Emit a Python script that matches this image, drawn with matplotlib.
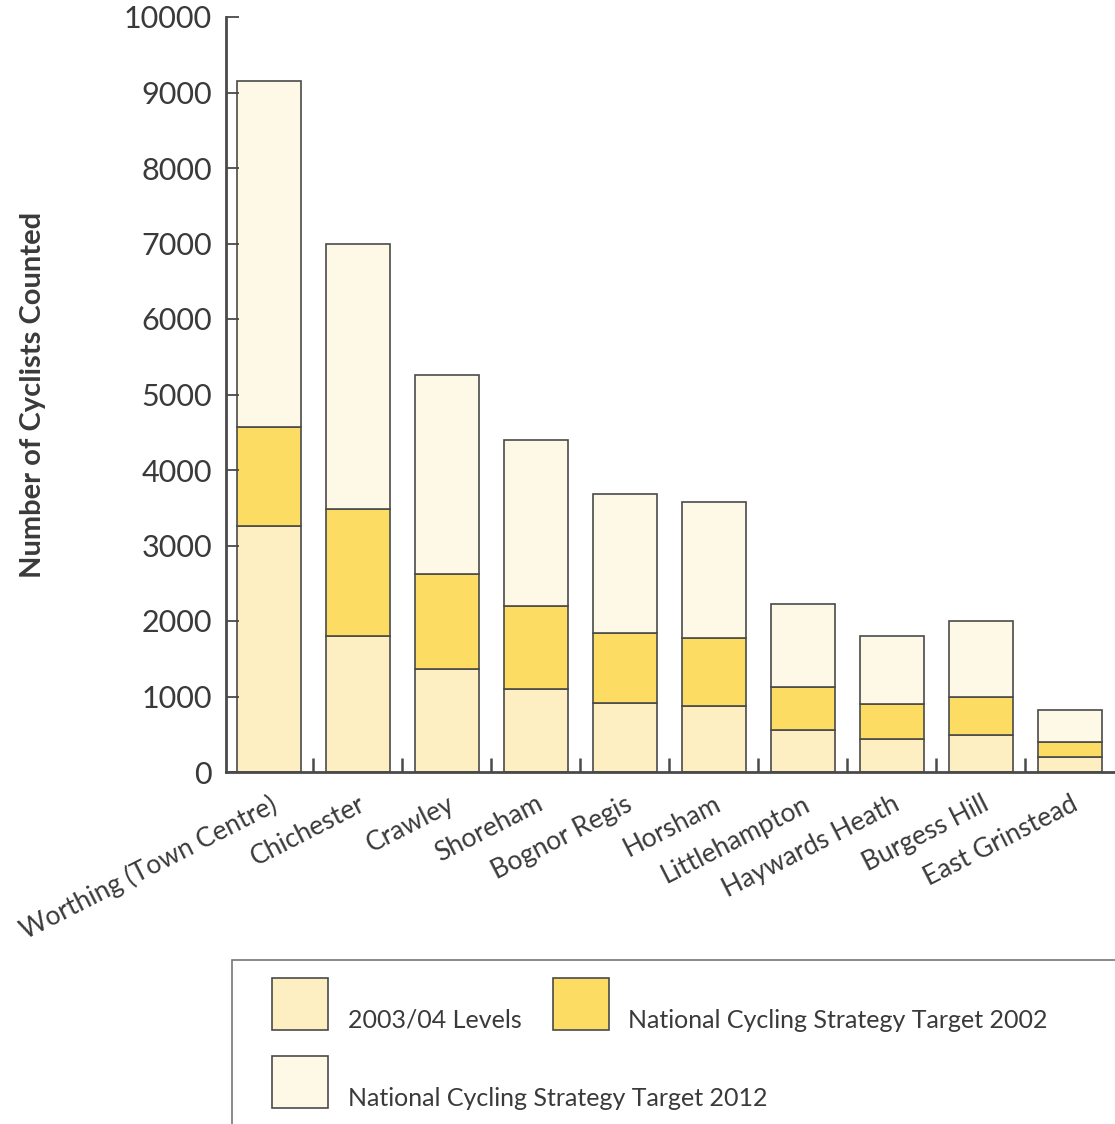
import matplotlib
matplotlib.use("Agg")
import matplotlib.pyplot as plt
from matplotlib.patches import Rectangle
import numpy as np

plt.rcParams['font.family'] = ['Lato', 'DejaVu Sans']

towns = ["Worthing (Town Centre)", "Chichester", "Crawley", "Shoreham", "Bognor Regis",
         "Horsham", "Littlehampton", "Haywards Heath", "Burgess Hill", "East Grinstead"]
levels_2003 = [3260, 1800, 1365, 1100, 915, 875, 555, 440, 490, 200]
target_2002 = [4570, 3485, 2625, 2200, 1840, 1775, 1125, 900, 995, 400]
target_2012 = [9150, 6995, 5260, 4400, 3685, 3580, 2225, 1800, 2000, 820]

series_labels = ["2003/04 Levels", "National Cycling Strategy Target 2002",
                 "National Cycling Strategy Target 2012"]
colors = ["#FDEFC2", "#FDDC64", "#FEF9E7"]
edge = "#4a4a4a"
txt = "#3a3a3a"

W, H = 1115, 1124
fig = plt.figure(figsize=(W / 100, H / 100), dpi=100)
ax = fig.add_axes([226 / W, 1 - 772 / H, (W - 226) / W + 0.01, (772 - 17) / H])

x = np.arange(len(towns))
b1 = np.array(levels_2003)
b2 = np.array(target_2002) - b1
b3 = np.array(target_2012) - np.array(target_2002)
bw = 0.72
ax.bar(x, b1, bw, color=colors[0], edgecolor=edge, linewidth=1.2)
ax.bar(x, b2, bw, bottom=b1, color=colors[1], edgecolor=edge, linewidth=1.2)
ax.bar(x, b3, bw, bottom=np.array(target_2002), color=colors[2], edgecolor=edge, linewidth=1.2)

ax.set_xlim(-0.483, 9.506 + 0.01 * W / 89)
ax.set_ylim(0, 10000)
ax.set_yticks(np.arange(0, 10001, 1000))
ax.tick_params(axis='y', direction='in', length=9, width=1.3, colors=edge, labelsize=22,
               labelcolor=txt, pad=10)
ax.set_xticks(x)
ax.set_xticklabels(towns, rotation=27, ha='right', rotation_mode='anchor', fontsize=19, color=txt)
ax.tick_params(axis='x', which='major', length=0, pad=14)
ax.set_xticks(np.arange(0.5, 9.0, 1.0), minor=True)
ax.tick_params(axis='x', which='minor', direction='in', length=10, width=1.8, colors=edge)

for s in ['top', 'right']:
    ax.spines[s].set_visible(False)
for s in ['left', 'bottom']:
    ax.spines[s].set_color(edge)
    ax.spines[s].set_linewidth(2.0)

ax.set_ylabel("Number of Cyclists Counted", fontsize=21, fontweight='bold', color=txt, labelpad=56)

# legend box
def fx(px):
    return px / W

def fy(py):
    return 1 - py / H

fig.patches.append(Rectangle((fx(232), fy(1130)), fx(900), (1130 - 960) / H,
                             transform=fig.transFigure, facecolor='white',
                             edgecolor='#777777', linewidth=1.2))
legend_pos = [(272, 978, 348), (553, 978, 628), (272, 1056, 348)]
for (px, py, tx), c, lab in zip(legend_pos, colors, series_labels):
    fig.patches.append(Rectangle((fx(px), fy(py + 52)), fx(56), 52 / H,
                                 transform=fig.transFigure, facecolor=c,
                                 edgecolor=edge, linewidth=1.2))
    fig.text(fx(tx), fy(py + 42), lab, fontsize=18, color=txt, va='center', ha='left')

fig.savefig("out.png", dpi=100)
